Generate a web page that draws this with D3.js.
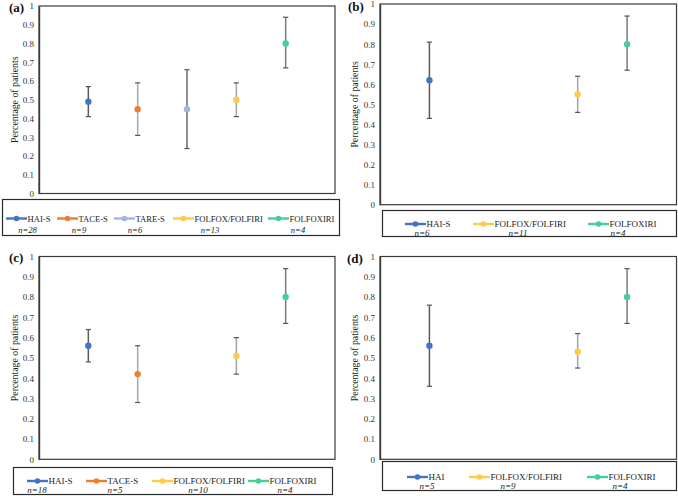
<!DOCTYPE html>
<html><head><meta charset="utf-8">
<script src="https://cdn.jsdelivr.net/npm/d3@7"></script>
<style>html,body{margin:0;padding:0;background:#fff;}svg{display:block;}</style>
</head><body>
<svg id="c" width="678" height="496"></svg>
<script>
// ---------- data ----------
const slots = ["HAI-S", "TACE-S", "TARE-S", "FOLFOX/FOLFIRI", "FOLFOXIRI"];
const yTicks = [0, 0.1, 0.2, 0.3, 0.4, 0.5, 0.6, 0.7, 0.8, 0.9, 1];

const aGroups = ["HAI-S", "TACE-S", "TARE-S", "FOLFOX/FOLFIRI", "FOLFOXIRI"];
const aValues = [0.49, 0.45, 0.45, 0.50, 0.80];
const aLower  = [0.41, 0.31, 0.24, 0.41, 0.67];
const aUpper  = [0.57, 0.59, 0.66, 0.59, 0.94];
const aN      = [28, 9, 6, 13, 4];

const bGroups = ["HAI-S", "FOLFOX/FOLFIRI", "FOLFOXIRI"];
const bValues = [0.62, 0.55, 0.80];
const bLower  = [0.43, 0.46, 0.67];
const bUpper  = [0.81, 0.64, 0.94];
const bN      = [6, 11, 4];

const cGroups = ["HAI-S", "TACE-S", "FOLFOX/FOLFIRI", "FOLFOXIRI"];
const cValues = [0.56, 0.42, 0.51, 0.80];
const cLower  = [0.48, 0.28, 0.42, 0.67];
const cUpper  = [0.64, 0.56, 0.60, 0.94];
const cN      = [18, 5, 10, 4];

const dGroups = ["HAI", "FOLFOX/FOLFIRI", "FOLFOXIRI"];
const dValues = [0.56, 0.53, 0.80];
const dLower  = [0.36, 0.45, 0.67];
const dUpper  = [0.76, 0.62, 0.94];
const dN      = [5, 9, 4];

// ---------- styles ----------
const alias = {"HAI": "HAI-S"};
const colors = {"HAI-S": "#4472C4", "TACE-S": "#ED7D31", "TARE-S": "#A4B6E0",
                "FOLFOX/FOLFIRI": "#FFCB47", "FOLFOXIRI": "#47CD99"};
const stemColors = {"HAI-S": "#5a5a5a", "TACE-S": "#a8a8a8", "TARE-S": "#6a6a6a",
                    "FOLFOX/FOLFIRI": "#a3a3a3", "FOLFOXIRI": "#7a7a7a"};
const FONT = "'Liberation Serif','Times New Roman',serif";

// ---------- layout ----------
const panels = [
  {label: "(a)", groups: aGroups, values: aValues, lower: aLower, upper: aUpper, n: aN,
   frame: {x0: 39, x1: 335, top: 6, bottom: 193.5}, labelPos: [9, 12], titleX: 14,
   legend: {x: 2, y: 199, w: 338, h: 37, lineY: 218.5, nY: 232.5, fs: 8.6,
            starts: [6, 57, 114, 173, 268], nX: [27.5, 79, 135, 210, 298]}},
  {label: "(b)", groups: bGroups, values: bValues, lower: bLower, upper: bUpper, n: bN,
   frame: {x0: 380, x1: 676.5, top: 4, bottom: 204.7}, labelPos: [348, 11], titleX: 354,
   legend: {x: 382, y: 210, w: 295, h: 27, lineY: 224, nY: 235.5, fs: 9,
            starts: [405, 473, 588], nX: [422, 518, 618]}},
  {label: "(c)", groups: cGroups, values: cValues, lower: cLower, upper: cUpper, n: cN,
   frame: {x0: 39, x1: 335, top: 256.5, bottom: 459.3}, labelPos: [9, 262], titleX: 14,
   legend: {x: 13, y: 467, w: 320, h: 28, lineY: 481, nY: 492.5, fs: 9,
            starts: [27, 86, 152, 248], nX: [37, 115, 198, 285]}},
  {label: "(d)", groups: dGroups, values: dValues, lower: dLower, upper: dUpper, n: dN,
   frame: {x0: 380, x1: 676.5, top: 256.5, bottom: 459.3}, labelPos: [347, 263], titleX: 354,
   legend: {x: 382, y: 461, w: 295, h: 30, lineY: 477, nY: 488.5, fs: 9,
            starts: [407, 469, 587], nX: [427, 508, 620]}}
];

const svg = d3.select("#c");

panels.forEach(p => {
  const f = p.frame;
  const g = svg.append("g");
  const x = d3.scalePoint().domain(slots).range([f.x0, f.x1]).padding(1);
  const y = d3.scaleLinear().domain([0, 1]).range([f.bottom, f.top]);

  // frame
  g.append("rect").attr("x", f.x0).attr("y", f.top).attr("width", f.x1 - f.x0).attr("height", f.bottom - f.top)
    .attr("fill", "none").attr("stroke", "#3a3a3a").attr("stroke-width", 1.2);

  // y axis
  const ax = g.append("g").attr("transform", `translate(${f.x0},0)`)
    .call(d3.axisLeft(y).tickValues(yTicks).tickSize(0).tickPadding(5).tickFormat(d => d3.format("")(+d.toFixed(1))));
  ax.select(".domain").attr("stroke", "#3a3a3a").attr("stroke-width", 1.4);
  ax.selectAll("text").attr("font-family", FONT).attr("font-size", 9).attr("fill", "#333");

  // title
  g.append("text").attr("transform", `translate(${p.titleX},${(f.top + f.bottom) / 2}) rotate(-90)`)
    .attr("text-anchor", "middle").attr("dominant-baseline", "central")
    .attr("font-family", FONT).attr("font-size", 9.8).attr("fill", "#222").text("Percentage of patients");

  // panel label
  g.append("text").attr("x", p.labelPos[0]).attr("y", p.labelPos[1])
    .attr("font-family", FONT).attr("font-weight", "bold").attr("font-size", 13).attr("fill", "#111").text(p.label);

  // data
  const rows = p.groups.map((name, i) => ({name, key: alias[name] || name, v: p.values[i], lo: p.lower[i], hi: p.upper[i], n: p.n[i]}));
  const eb = g.selectAll(".eb").data(rows).enter().append("g");
  eb.append("line").attr("x1", d => x(d.key)).attr("x2", d => x(d.key))
    .attr("y1", d => y(d.lo)).attr("y2", d => y(d.hi))
    .attr("stroke", d => stemColors[d.key]).attr("stroke-width", 1.5);
  ["lo", "hi"].forEach(k => {
    eb.append("line").attr("x1", d => x(d.key) - 2.6).attr("x2", d => x(d.key) + 2.6)
      .attr("y1", d => y(d[k])).attr("y2", d => y(d[k]))
      .attr("stroke", "#555").attr("stroke-width", 1.2);
  });
  eb.append("circle").attr("cx", d => x(d.key)).attr("cy", d => y(d.v)).attr("r", 3.2)
    .attr("fill", d => colors[d.key]);

  // legend
  const L = p.legend;
  g.append("rect").attr("x", L.x + 0.5).attr("y", L.y + 0.5).attr("width", L.w - 1).attr("height", L.h - 1)
    .attr("fill", "#fff").attr("stroke", "#2a2a2a").attr("stroke-width", 1.2);
  rows.forEach((d, i) => {
    const s = L.starts[i];
    g.append("line").attr("x1", s).attr("x2", s + 21).attr("y1", L.lineY).attr("y2", L.lineY)
      .attr("stroke", colors[d.key]).attr("stroke-width", 2.4);
    g.append("circle").attr("cx", s + 10.5).attr("cy", L.lineY).attr("r", 2.8).attr("fill", colors[d.key]);
    g.append("text").attr("x", s + 21.5).attr("y", L.lineY).attr("dominant-baseline", "central")
      .attr("font-family", FONT).attr("font-size", L.fs).attr("fill", "#222").text(d.name);
    g.append("text").attr("x", L.nX[i]).attr("y", L.nY).attr("text-anchor", "middle")
      .attr("font-family", FONT).attr("font-style", "italic").attr("font-size", L.fs).attr("fill", "#222")
      .text("n=" + d.n);
  });
});
</script>
</body></html>
